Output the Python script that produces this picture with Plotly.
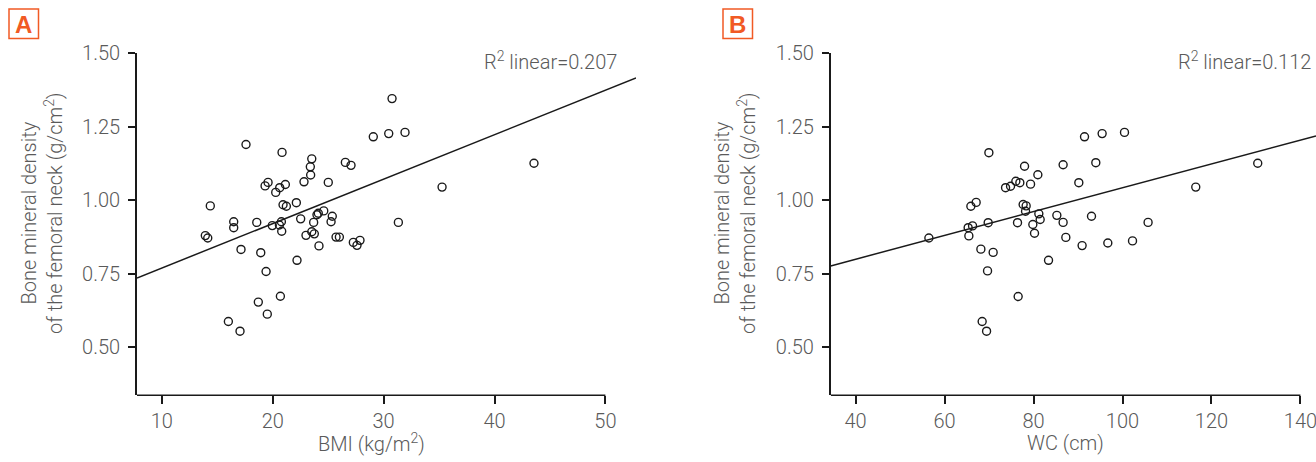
import plotly.graph_objects as go

# ---------------- data ----------------
bmi = [17.59, 20.84, 23.52, 23.39, 23.42, 22.82, 25.01, 19.58, 19.31, 20.63,
       21.14, 20.27, 14.37, 20.93, 21.23, 22.13, 23.99, 24.11, 24.60, 22.52,
       23.69, 16.48, 16.48, 18.56, 20.78, 20.60, 19.96, 20.81, 23.52, 23.75,
       23.00, 13.92, 14.14, 24.17, 17.14, 18.92, 22.19, 19.40,
       30.76, 29.07, 30.46, 31.93, 26.55, 27.06, 35.27, 25.37, 25.26, 31.33,
       25.71, 26.01, 27.27, 27.60, 27.87, 43.56,
       20.69, 18.70, 19.51, 16.00, 17.05]
bmd_a = [1.190, 1.163, 1.141, 1.114, 1.086, 1.063, 1.061, 1.061, 1.049, 1.043,
         1.054, 1.027, 0.981, 0.985, 0.980, 0.992, 0.951, 0.956, 0.964, 0.937,
         0.925, 0.927, 0.907, 0.925, 0.927, 0.916, 0.914, 0.895, 0.893, 0.886,
         0.881, 0.880, 0.872, 0.845, 0.833, 0.822, 0.796, 0.758,
         1.346, 1.216, 1.227, 1.231, 1.129, 1.119, 1.045, 0.946, 0.927, 0.925,
         0.875, 0.875, 0.857, 0.847, 0.864, 1.126,
         0.674, 0.654, 0.613, 0.588, 0.555]

wc = [69.96, 67.10, 65.91, 69.80, 65.30, 66.29, 65.46, 56.47, 68.16, 70.92,
      69.66, 68.45, 69.44,
      91.46, 95.42, 100.45, 77.98, 86.65, 94.00, 80.97, 90.18,
      73.71, 74.83, 76.02, 76.92, 79.33, 77.66, 78.34, 78.20,
      76.40, 81.19, 81.49, 79.84, 80.22, 85.24, 86.65, 93.03, 105.75,
      87.26, 90.92, 96.70, 102.25, 83.37, 76.54, 116.47, 130.40]
bmd_b = [1.162, 0.993, 0.980, 0.924, 0.907, 0.913, 0.879, 0.872, 0.834, 0.823,
         0.760, 0.588, 0.555,
         1.216, 1.227, 1.231, 1.116, 1.121, 1.128, 1.087, 1.060,
         1.043, 1.048, 1.065, 1.060, 1.055, 0.986, 0.981, 0.963,
         0.924, 0.954, 0.935, 0.918, 0.888, 0.949, 0.925, 0.946, 0.925,
         0.874, 0.846, 0.855, 0.862, 0.796, 0.673, 1.045, 1.126]

# fitted lines (end points)
bmi_fit_x = [7.76, 52.76]
bmi_fit_y = [0.736, 1.416]
wc_fit_x = [34.4, 143.5]
wc_fit_y = [0.777, 1.219]

y_ticks = [0.50, 0.75, 1.00, 1.25, 1.50]
y_tick_text = ["0.50", "0.75", "1.00", "1.25", "1.50"]
bmi_ticks = [10, 20, 30, 40, 50]
wc_ticks = [40, 60, 80, 100, 120, 140]

r2_a = "R<sup>2</sup> linear=0.207"
r2_b = "R<sup>2</sup> linear=0.112"
y_title = "Bone mineral density<br>of the femoral neck (g/cm<sup>2</sup>)"
x_title_a = "BMI (kg/m<sup>2</sup>)"
x_title_b = "WC (cm)"

# ---------------- layout helpers ----------------
W, H = 1316, 462
def px(x):
    return x / W
def py(y):
    return 1 - y / H

FONT = "Roboto, Liberation Sans, Arial, sans-serif"
WEIGHT = 300
GRAY = "#5a5a5a"
ORANGE = "#F15A24"
INK = "#1a1a1a"
FS = 20

def tfont(size=FS, color=GRAY):
    return dict(family=FONT, size=size, color=color, weight=WEIGHT)

fig = go.Figure()

marker = dict(symbol="circle-open", size=8, color=INK, line=dict(width=1.4, color=INK))

fig.add_trace(go.Scatter(x=bmi, y=bmd_a, mode="markers", marker=marker, xaxis="x", yaxis="y", showlegend=False))
fig.add_trace(go.Scatter(x=bmi_fit_x, y=bmi_fit_y, mode="lines", line=dict(color=INK, width=1.5),
                         xaxis="x", yaxis="y", showlegend=False))
fig.add_trace(go.Scatter(x=wc, y=bmd_b, mode="markers", marker=marker, xaxis="x2", yaxis="y2", showlegend=False))
fig.add_trace(go.Scatter(x=wc_fit_x, y=wc_fit_y, mode="lines", line=dict(color=INK, width=1.5),
                         xaxis="x2", yaxis="y2", showlegend=False))

ydom = [py(395.3), py(53.3)]
common_x = dict(showgrid=False, zeroline=False, showline=False, ticks="outside", ticklen=8,
                tickwidth=1.5, tickcolor=INK, tickfont=tfont(), automargin=False,
                ticklabeloverflow="allow")
common_y = dict(showgrid=False, zeroline=False, showline=True, linewidth=1.6, linecolor=INK,
                ticks="outside", ticklen=7, tickwidth=1.5, tickcolor=INK,
                tickvals=y_ticks, ticktext=y_tick_text, ticklabelstandoff=4,
                tickfont=tfont(), automargin=False)

fig.update_layout(
    template="none",
    width=W, height=H, margin=dict(l=0, r=0, t=0, b=0, autoexpand=False),
    paper_bgcolor="white", plot_bgcolor="white",
    xaxis=dict(domain=[px(137), px(636)], range=[bmi_fit_x[0], bmi_fit_x[1]], tickvals=bmi_ticks,
               anchor="y", **common_x),
    yaxis=dict(domain=ydom, range=[0.337, 1.50], anchor="x", **common_y),
    xaxis2=dict(domain=[px(830.7), 1.0], range=[wc_fit_x[0], wc_fit_x[1]], tickvals=wc_ticks,
                anchor="y2", **common_x),
    yaxis2=dict(domain=ydom, range=[0.337, 1.50], anchor="x2", **common_y),
)

# x axis lines end at the last tick
fig.add_shape(type="line", xref="x", yref="y domain", x0=bmi_fit_x[0], x1=50, y0=0, y1=0,
              line=dict(color=INK, width=1.6))
fig.add_shape(type="line", xref="x2", yref="y2 domain", x0=wc_fit_x[0], x1=140, y0=0, y1=0,
              line=dict(color=INK, width=1.6))

# panel label boxes
for (x0, x1, lab) in [(9, 38.5, "A"), (723, 752.5, "B")]:
    fig.add_shape(type="rect", xref="paper", yref="paper", x0=px(x0), x1=px(x1), y0=py(38.5), y1=py(9),
                  line=dict(color=ORANGE, width=1.5), fillcolor="rgba(0,0,0,0)")
    fig.add_annotation(x=px((x0 + x1) / 2), y=py(24), xref="paper", yref="paper", text="<b>%s</b>" % lab,
                       showarrow=False, xanchor="center", yanchor="middle",
                       font=dict(family="Liberation Sans, Arial, sans-serif", size=24, color=ORANGE))

# R2 texts
fig.add_annotation(x=px(619), y=py(61), xref="paper", yref="paper", text=r2_a, showarrow=False,
                   xanchor="right", yanchor="middle", font=tfont())
fig.add_annotation(x=px(1313), y=py(61), xref="paper", yref="paper", text=r2_b, showarrow=False,
                   xanchor="right", yanchor="middle", font=tfont())

# axis titles
for xc in [42, 735]:
    fig.add_annotation(x=px(xc), y=py(213), xref="paper", yref="paper", text=y_title, showarrow=False,
                       textangle=-90, xanchor="center", yanchor="middle", font=tfont())
fig.add_annotation(x=px(371), y=py(443), xref="paper", yref="paper", text=x_title_a, showarrow=False,
                   xanchor="center", yanchor="middle", font=tfont())
fig.add_annotation(x=px(1065), y=py(443), xref="paper", yref="paper", text=x_title_b, showarrow=False,
                   xanchor="center", yanchor="middle", font=tfont())

fig.write_html("out.html", config={"displayModeBar": False})

# remove the page margin so the figure sits at the window's top-left corner
with open("out.html", "r", encoding="utf-8") as f:
    html = f.read()
html = html.replace("<head>", "<head><style>html,body{margin:0;padding:0;overflow:hidden;}</style>", 1)
with open("out.html", "w", encoding="utf-8") as f:
    f.write(html)
